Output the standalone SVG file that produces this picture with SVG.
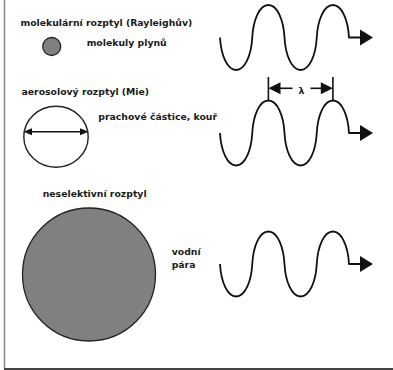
<svg xmlns="http://www.w3.org/2000/svg" width="393" height="370" viewBox="0 0 393 370">
<style>
.t{font-family:"DejaVu Sans",Verdana,sans-serif;font-weight:bold;font-size:9.3px;fill:#1a1a1a}
.w{fill:none;stroke:#111;stroke-width:1.8;stroke-linejoin:round}
.ln{fill:none;stroke:#111;stroke-width:1.6}
.hd{fill:#111;stroke:none}
.part{fill:#808080;stroke:#222;stroke-width:1.3}
</style>
<defs>
<path id="wave" d="M0,0 c1,17.9 7.26,32.5 16.125,32.5 s15.16,-14.63 16.125,-32.5 s7.26,-32.5 16.125,-32.5 s15.16,14.63 16.125,32.5 s7.26,32.5 16.125,32.5 s15.16,-14.63 16.125,-32.5 s7.26,-32.5 16.125,-32.5 s15.16,14.63 16.125,32.5 L140,0"/>
<path id="ahead" d="M0,0 L-13,-8 L-13,8 Z"/>
</defs>
<rect width="393" height="370" fill="#fff"/>
<g id="frame">
<line x1="4.5" y1="0" x2="4.5" y2="369" stroke="#8a8a8a" stroke-width="1.5"/>
<line x1="4" y1="369" x2="393" y2="369" stroke="#444" stroke-width="2"/>
</g>
<g id="rayleigh">
<text class="t" x="20.5" y="26">molekulární rozptyl (Rayleighův)</text>
<circle class="part" cx="51.7" cy="46.5" r="9"/>
<text class="t" x="86.7" y="46">molekuly plynů</text>
</g>
<g id="mie">
<text class="t" x="21.5" y="94.5">aerosolový rozptyl (Mie)</text>
<ellipse cx="56" cy="136.7" rx="32.2" ry="30.5" fill="none" stroke="#222" stroke-width="1.4"/>
<line class="ln" x1="30" y1="131.7" x2="82" y2="131.7"/>
<path class="hd" d="M23.5,131.7 L32,128.2 L32,135.2 Z"/>
<path class="hd" d="M88.5,131.7 L80,128.2 L80,135.2 Z"/>
<text class="t" x="98.3" y="120">prachové částice, kouř</text>
</g>
<g id="nonselective">
<text class="t" x="42.7" y="197">neselektivní rozptyl</text>
<circle class="part" cx="89" cy="274.5" r="66.5"/>
<text class="t" x="171.7" y="255">vodní</text>
<text class="t" x="171.7" y="267.5">pára</text>
</g>
<g id="connectors">
<g id="wave1">
<use href="#wave" class="w" transform="translate(220,37.5)"/>
<use href="#ahead" class="hd" transform="translate(373,37.5)"/>
</g>
<g id="wave2">
<use href="#wave" class="w" transform="translate(220,133)"/>
<use href="#ahead" class="hd" transform="translate(373,133)"/>
</g>
<g id="wave3">
<use href="#wave" class="w" transform="translate(220,264)"/>
<use href="#ahead" class="hd" transform="translate(373,264)"/>
</g>
<g id="lambda">
<line class="ln" x1="268.4" y1="77" x2="268.4" y2="100.5"/>
<line class="ln" x1="332.9" y1="77" x2="332.9" y2="100.5"/>
<line class="ln" x1="279" y1="88.3" x2="292.5" y2="88.3"/>
<line class="ln" x1="310.5" y1="88.3" x2="322" y2="88.3"/>
<path class="hd" d="M268.4,88.3 L280.5,82.3 L280.5,94.3 Z"/>
<path class="hd" d="M332.9,88.3 L320.8,82.3 L320.8,94.3 Z"/>
<text class="t" x="301.5" y="94" text-anchor="middle" font-size="10.5">λ</text>
</g>
</g>
</svg>
